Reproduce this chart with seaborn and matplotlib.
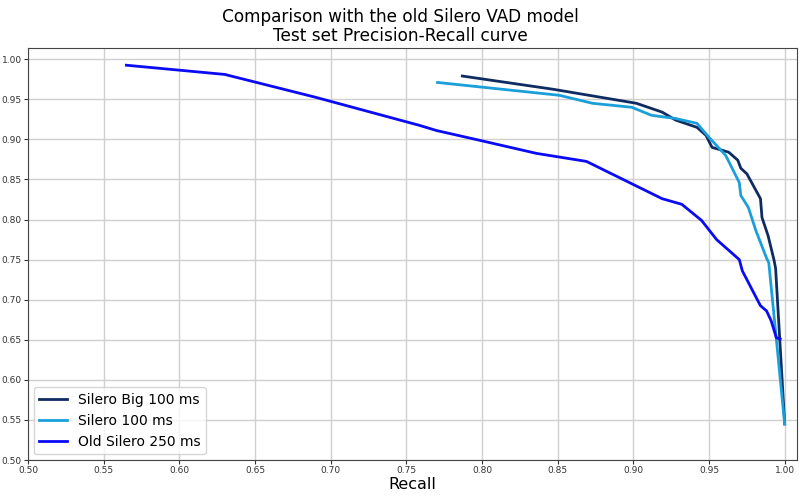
import pandas as pd
import matplotlib
matplotlib.use("Agg")
import matplotlib.pyplot as plt
import seaborn as sns

# values
big_recall = [0.787, 0.847, 0.902, 0.919, 0.928, 0.942, 0.948, 0.952, 0.963, 0.969,
              0.971, 0.975, 0.984, 0.985, 0.989, 0.993, 0.994, 1.000]
big_precision = [0.979, 0.9625, 0.945, 0.934, 0.924, 0.915, 0.905, 0.890, 0.884, 0.874,
                 0.864, 0.857, 0.826, 0.8025, 0.780, 0.749, 0.739, 0.545]

s100_recall = [0.7706, 0.851, 0.873, 0.899, 0.912, 0.928, 0.942, 0.950, 0.961, 0.965,
               0.970, 0.971, 0.976, 0.981, 0.988, 0.9895, 1.000]
s100_precision = [0.971, 0.955, 0.945, 0.940, 0.930, 0.926, 0.920, 0.9025, 0.880, 0.865,
                  0.846, 0.830, 0.815, 0.786, 0.752, 0.746, 0.545]

old_recall = [0.565, 0.630, 0.690, 0.7586, 0.770, 0.798, 0.836, 0.869, 0.919, 0.932,
              0.945, 0.955, 0.970, 0.972, 0.983, 0.984, 0.988, 0.991, 0.9945, 0.997]
old_precision = [0.9925, 0.981, 0.9525, 0.9175, 0.911, 0.899, 0.8825, 0.8725, 0.826, 0.819,
                 0.799, 0.775, 0.750, 0.736, 0.696, 0.6925, 0.686, 0.674, 0.6525, 0.651]

labels = ['Silero Big 100 ms', 'Silero 100 ms', 'Old Silero 250 ms']
colors = ['#0f2c62', '#1b9fda', '#0a0af5']

frames = []
for name, r, p in zip(labels, [big_recall, s100_recall, old_recall],
                      [big_precision, s100_precision, old_precision]):
    frames.append(pd.DataFrame({'recall': r, 'precision': p, 'model': name}))
df = pd.concat(frames, ignore_index=True)

fig, ax = plt.subplots(figsize=(8, 5), dpi=100)
fig.subplots_adjust(left=0.035, right=0.996, top=0.905, bottom=0.08)

sns.lineplot(data=df, x='recall', y='precision', hue='model', hue_order=labels,
             palette=colors, sort=False, estimator=None, linewidth=2, ax=ax)

ax.set_xlim(0.5, 1.008)
ax.set_ylim(0.5, 1.0146)
ax.set_xticks([0.5 + 0.05 * i for i in range(11)])
ax.set_yticks([0.5 + 0.05 * i for i in range(11)])
ax.xaxis.set_major_formatter(matplotlib.ticker.FormatStrFormatter('%.2f'))
ax.yaxis.set_major_formatter(matplotlib.ticker.FormatStrFormatter('%.2f'))
ax.tick_params(labelsize=6.5, length=3, pad=1.5, colors='#333333')
ax.grid(True, color='#d0d0d0', linewidth=1)
for s in ax.spines.values():
    s.set_color('#444444')

ax.set_xlabel('Recall', fontsize=11.5, labelpad=1)
ax.set_ylabel('')
fig.suptitle('Comparison with the old Silero VAD model\nTest set Precision-Recall curve',
             x=0.5, y=0.985, fontsize=12.2, linespacing=1.1)
ax.legend(loc='lower left', fontsize=10, handlelength=2, borderaxespad=0.4)

plt.savefig('out.png', dpi=100)
